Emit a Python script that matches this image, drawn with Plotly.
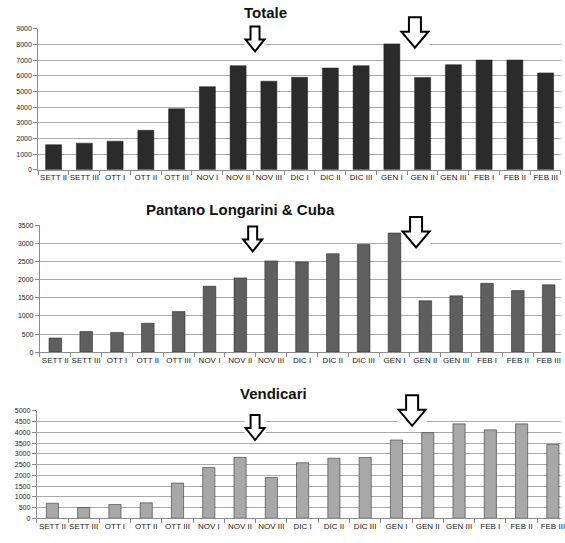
import plotly.graph_objects as go

categories = ["SETT II", "SETT III", "OTT I", "OTT II", "OTT III", "NOV I", "NOV II", "NOV III",
              "DIC I", "DIC II", "DIC III", "GEN I", "GEN II", "GEN III", "FEB I", "FEB II", "FEB III"]
totale = [1600, 1700, 1830, 2520, 3890, 5300, 6640, 5650, 5900, 6490, 6640, 8030, 5880, 6700, 7000, 7000, 6180]
pantano = [390, 570, 545, 800, 1120, 1820, 2050, 2520, 2490, 2720, 2970, 3290, 1420, 1555, 1900, 1700, 1860]
vendicari = [700, 500, 640, 720, 1640, 2370, 2840, 1900, 2590, 2800, 2830, 3650, 3990, 4400, 4120, 4400, 3440]
titles = ["Totale", "Pantano Longarini & Cuba", "Vendicari"]

W, H = 565, 543
panels = [
    dict(vals=totale, color="#2b2b2b", width=0.52, left=38.5, right=565, top=25, bottom=168,
         yr=9000, dt=1000, xr=[-0.5, 16.5], title_x=267, title_y=9,
         arrows=[(6.55, 48, "s"), (11.75, 44.3, "b")]),
    dict(vals=pantano, color="#5f5f5f", width=0.41, left=40.2, right=565, top=224.3, bottom=352.7,
         yr=3500, dt=500, xr=[-0.5, 16.4], title_x=242.5, title_y=208,
         arrows=[(6.40, 250.7, "s"), (11.7, 246.7, "b")]),
    dict(vals=vendicari, color="#a8a8a8", width=0.39, left=37, right=565, top=412.3, bottom=521,
         yr=5000, dt=500, xr=[-0.5, 16.26], title_x=275, title_y=394.5,
         arrows=[(6.48, 441.7, "s"), (11.5, 427.3, "b")]),
]

arrow_sizes = {"s": dict(H=25, h=12, s=9, w=19), "b": dict(H=30.5, h=16, s=12, w=27)}

fig = go.Figure()
shapes = []
annotations = []
for i, p in enumerate(panels):
    n = "" if i == 0 else str(i + 1)
    xa, ya = "x" + n, "y" + n
    fig.add_trace(go.Bar(x=categories, y=p["vals"], marker=dict(color=p["color"], line=dict(color="#1a1a1a", width=0.5)),
                         width=p["width"], xaxis=xa, yaxis=ya, showlegend=False))
    fig.layout["xaxis" + n] = dict(
        domain=[p["left"] / W, p["right"] / W], anchor=ya, type="category", range=p["xr"],
        showline=True, linecolor="#8c8c8c", linewidth=1, ticks="outside", tickson="boundaries",
        ticklen=4, tickcolor="#8c8c8c", showgrid=False,
        tickfont=dict(family="Liberation Sans, Arial, sans-serif", size=8, color="#222"),
        tickangle=0, fixedrange=True)
    fig.layout["yaxis" + n] = dict(
        domain=[1 - p["bottom"] / H, 1 - p["top"] / H], anchor=xa, range=[0, p["yr"]], dtick=p["dt"],
        showline=True, linecolor="#8c8c8c", linewidth=1, ticks="outside", ticklen=4, tickcolor="#8c8c8c",
        showgrid=True, gridcolor="#a9a9a9", gridwidth=1.3, zeroline=False,
        tickfont=dict(family="Liberation Sans, Arial, sans-serif", size=7, color="#222"), fixedrange=True)
    annotations.append(dict(text="<b>%s</b>" % titles[i], x=p["title_x"] / W, y=1 - p["title_y"] / H,
                            xref="paper", yref="paper", showarrow=False, xanchor="center", yanchor="middle",
                            font=dict(family="Liberation Sans, Arial, sans-serif", size=15, color="#111")))
    for (ax_idx, tip_px, kind) in p["arrows"]:
        a = arrow_sizes[kind]
        tip_frac = (p["bottom"] - tip_px) / (p["bottom"] - p["top"])
        common = dict(xref=xa, yref=ya + " domain", xsizemode="pixel", ysizemode="pixel",
                      xanchor=ax_idx, yanchor=tip_frac, layer="above")
        shapes.append(dict(type="rect", x0=-a["w"] / 2 - 1, x1=a["w"] / 2 + 1, y0=2, y1=a["H"] + 2,
                           fillcolor="white", line=dict(width=0), **common))
        path = ("M %g,%g L %g,%g L %g,%g L %g,%g L 0,0 L %g,%g L %g,%g Z" % (
            -a["s"] / 2, a["H"], a["s"] / 2, a["H"], a["s"] / 2, a["h"], a["w"] / 2, a["h"],
            -a["w"] / 2, a["h"], -a["s"] / 2, a["h"]))
        shapes.append(dict(type="path", path=path, fillcolor="white", line=dict(color="black", width=2),
                           **common))

fig.update_layout(width=W, height=H, margin=dict(l=0, r=0, t=0, b=0), paper_bgcolor="white",
                  plot_bgcolor="white", shapes=shapes, annotations=annotations, bargap=0.5)
fig.write_html("out.html", config={"displayModeBar": False},
               post_script="document.body.style.margin='0';")
